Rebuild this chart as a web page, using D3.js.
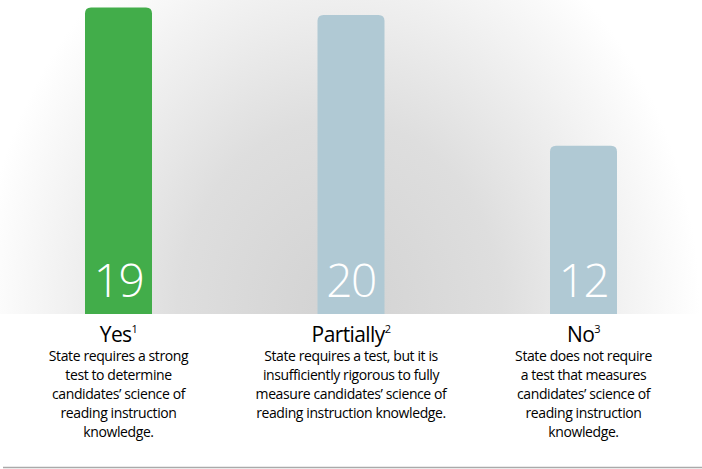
<!DOCTYPE html>
<html>
<head>
<meta charset="utf-8">
<script src="https://cdn.jsdelivr.net/npm/d3@7"></script>
<style>
  html, body { margin: 0; padding: 0; background: #fff; }
  svg { display: block; }
  text { font-family: "Open Sans", "Noto Sans", sans-serif; }
</style>
</head>
<body>
<div id="chart"></div>
<script>
// datos del gráfico
var categories = ["Yes", "Partially", "No"];
var footnotes = ["1", "2", "3"];
var counts = [19, 20, 12];
// largo de barra tal como aparece en el original (no es proporcional a counts)
var barLevels = [20.5, 20, 11.25];
var descriptions = [
  ["State requires a strong", "test to determine", "candidates\u2019 science of", "reading instruction", "knowledge."],
  ["State requires a test, but it is", "insufficiently rigorous to fully", "measure candidates\u2019 science of", "reading instruction knowledge."],
  ["State does not require", "a test that measures", "candidates\u2019 science of", "reading instruction", "knowledge."]
];

var width = 702,
    height = 469,
    baseY = 314,
    barW = 67,
    radius = 6;

var svg = d3.select("#chart").append("svg")
    .attr("width", width)
    .attr("height", height);

// gradiente radial del fondo
var defs = svg.append("defs");
var grad = defs.append("radialGradient")
    .attr("id", "bg")
    .attr("gradientUnits", "userSpaceOnUse")
    .attr("cx", 340).attr("cy", baseY).attr("r", 360)
    .attr("gradientTransform", "translate(340," + baseY + ") scale(1,1.2) translate(-340," + (-baseY) + ")");
grad.append("stop").attr("offset", "0%").attr("stop-color", "#d2d2d2");
grad.append("stop").attr("offset", "45%").attr("stop-color", "#dedede");
grad.append("stop").attr("offset", "100%").attr("stop-color", "#ffffff");

svg.append("rect")
    .attr("x", 0).attr("y", 0)
    .attr("width", width).attr("height", baseY)
    .attr("fill", "url(#bg)");

var x = d3.scalePoint()
    .domain(categories)
    .range([118.5, 583.5]);

var y = d3.scaleLinear()
    .domain([0, 21])
    .range([baseY, 0]);

// barra con esquinas superiores redondeadas
function barPath(cx, top, bottom) {
  var x0 = cx - barW / 2, x1 = cx + barW / 2;
  return "M" + x0 + "," + bottom +
    "V" + (top + radius) +
    "Q" + x0 + "," + top + " " + (x0 + radius) + "," + top +
    "H" + (x1 - radius) +
    "Q" + x1 + "," + top + " " + x1 + "," + (top + radius) +
    "V" + bottom + "Z";
}

var groups = svg.selectAll(".cat")
    .data(categories)
    .enter().append("g")
    .attr("class", "cat");

groups.append("path")
    .attr("d", function (d, i) { return barPath(x(d), y(barLevels[i]), y(0)); })
    .attr("fill", function (d, i) { return i === 0 ? "#42ad4a" : "#b0c9d4"; });

groups.append("text")
    .attr("x", function (d) { return x(d); })
    .attr("y", 297)
    .attr("text-anchor", "middle")
    .attr("fill", "#fff")
    .style("font-size", "46px")
    .style("font-weight", 300)
    .style("letter-spacing", "-1.5px")
    .text(function (d, i) { return counts[i]; });

var label = groups.append("text")
    .attr("x", function (d) { return x(d); })
    .attr("y", 342)
    .attr("text-anchor", "middle")
    .attr("fill", "#000")
    .style("font-size", "21px")
    .style("letter-spacing", "-0.6px");
label.append("tspan").text(function (d) { return d; });
label.append("tspan")
    .attr("dy", -9)
    .style("font-size", "11px")
    .text(function (d, i) { return footnotes[i]; });

groups.each(function (d, i) {
  var t = d3.select(this).append("text")
      .attr("text-anchor", "middle")
      .attr("fill", "#000")
      .style("font-size", "14px")
      .style("font-weight", 500)
      .style("letter-spacing", "-0.4px");
  t.selectAll("tspan")
    .data(descriptions[i])
    .enter().append("tspan")
    .attr("x", x(d))
    .attr("y", function (line, j) { return 361 + j * 19; })
    .text(function (line) { return line; });
});

// línea inferior
svg.append("line")
    .attr("x1", 3).attr("x2", width)
    .attr("y1", 467.5).attr("y2", 467.5)
    .attr("stroke", "#aaa")
    .attr("stroke-width", 1.5);
</script>
</body>
</html>
